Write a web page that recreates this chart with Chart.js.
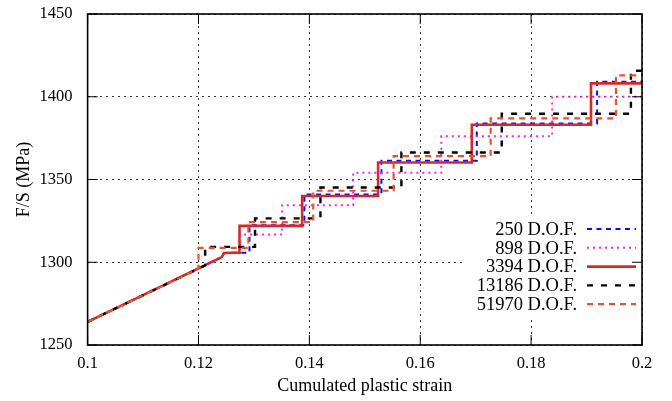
<!DOCTYPE html>
<html>
<head>
<meta charset="utf-8">
<script src="https://cdn.jsdelivr.net/npm/chart.js@4"></script>
<style>
  body { margin: 0; background: #fff; }
  #wrap { width: 672px; height: 401px; }
</style>
</head>
<body>
<div id="wrap"><canvas id="myChart" width="672" height="401"></canvas></div>
<script>
/**
 * 目盛り
 */
const xTicks = [0.1, 0.12, 0.14, 0.16, 0.18, 0.2];
const yTicks = [1250, 1300, 1350, 1400, 1450];

const names = ['250 D.O.F.', '898 D.O.F.', '3394 D.O.F.', '13186 D.O.F.', '51970 D.O.F.'];

// 250 D.O.F.
const x250 = [0.1, 0.1242, 0.1246, 0.1292, 0.1292, 0.1391, 0.1391, 0.1530, 0.1530, 0.1702, 0.1702, 0.1919, 0.1919, 0.2];
const y250 = [1264, 1303.1, 1305.6, 1305.8, 1322.4, 1322.4, 1341.0, 1341.0, 1361.3, 1361.3, 1383.9, 1383.9, 1409.1, 1409.1];

// 898 D.O.F.
const x898 = [0.1, 0.1242, 0.1246, 0.1275, 0.1275, 0.1351, 0.1351, 0.1479, 0.1479, 0.1638, 0.1638, 0.1838, 0.1838, 0.2];
const y898 = [1264, 1303.1, 1305.6, 1305.8, 1316.8, 1316.8, 1334.5, 1334.5, 1354.1, 1354.1, 1376.2, 1376.2, 1400.0, 1400.0];

// 3394 D.O.F.
const x3394 = [0.1, 0.1242, 0.1246, 0.1274, 0.1274, 0.1387, 0.1387, 0.1524, 0.1524, 0.1693, 0.1693, 0.1908, 0.1908, 0.2];
const y3394 = [1264, 1303.1, 1305.6, 1305.8, 1322.0, 1322.0, 1340.0, 1340.0, 1360.3, 1360.3, 1383.1, 1383.1, 1408.1, 1408.1];

// 13186 D.O.F.
const x13186 = [0.1, 0.1212, 0.1212, 0.1302, 0.1302, 0.1420, 0.1420, 0.1566, 0.1566, 0.1747, 0.1747, 0.1980, 0.1980, 0.2];
const y13186 = [1264, 1298.0, 1309.3, 1309.3, 1326.5, 1326.5, 1345.2, 1345.2, 1366.3, 1366.3, 1389.7, 1389.7, 1415.7, 1415.7];

// 51970 D.O.F.
const x51970 = [0.1, 0.12, 0.12, 0.1290, 0.1290, 0.1407, 0.1407, 0.1552, 0.1552, 0.1727, 0.1727, 0.1953, 0.1953, 0.2];
const y51970 = [1264, 1296.1, 1308.7, 1308.7, 1324.3, 1324.3, 1343.2, 1343.2, 1364.1, 1364.1, 1386.9, 1386.9, 1412.9, 1412.9];

const xs = [x250, x898, x3394, x13186, x51970];
const ys = [y250, y898, y3394, y13186, y51970];
const colors = ['#0a0aff', '#ee22ee', '#d62828', '#000000', '#e4542c'];
const widths = [2, 2, 2.6, 2.4, 2.2];
const dashes = [[5, 4.5], [2, 4], [], [6, 8], [6, 5]];

const serif = '"Liberation Serif", "DejaVu Serif", serif';
Chart.defaults.font.family = serif;
Chart.defaults.font.size = 16;
Chart.defaults.color = '#000';

const datasets = names.map((name, i) => ({
  label: name,
  data: xs[i].map((x, k) => ({ x: x, y: ys[i][k] })),
  showLine: true,
  borderColor: colors[i],
  borderWidth: widths[i],
  borderDash: dashes[i],
  pointRadius: 0,
  fill: false,
  order: names.length - i, // 後のデータを上に描く
}));

/**
 * 枠・内向きの目盛り・凡例
 */
const framePlugin = {
  id: 'frame',
  beforeDatasetsDraw(chart) {
    const { ctx, chartArea: a } = chart;
    ctx.save();
    ctx.fillStyle = '#fff';
    ctx.fillRect(a.right - 180, a.top + 204, 180, 98);
    ctx.restore();
  },
  afterDraw(chart) {
    const { ctx, chartArea: a, scales } = chart;
    const line = (x1, y1, x2, y2) => {
      ctx.beginPath();
      ctx.moveTo(x1, y1);
      ctx.lineTo(x2, y2);
      ctx.stroke();
    };
    ctx.save();
    ctx.strokeStyle = '#000';
    ctx.lineWidth = 1;
    xTicks.forEach(v => {
      const px = scales.x.getPixelForValue(v);
      line(px, a.bottom, px, a.bottom - 10);
      line(px, a.top, px, a.top + 10);
    });
    yTicks.forEach(v => {
      const py = scales.y.getPixelForValue(v);
      line(a.left, py, a.left + 10, py);
      line(a.right, py, a.right - 10, py);
    });
    ctx.lineWidth = 1.6;
    ctx.strokeRect(a.left, a.top, a.right - a.left, a.bottom - a.top);

    // 凡例
    ctx.font = '18.5px ' + serif;
    ctx.textAlign = 'right';
    ctx.textBaseline = 'middle';
    ctx.fillStyle = '#000';
    names.forEach((name, i) => {
      const y = a.top + 215 + i * 18.8;
      ctx.fillText(name, a.right - 65, y + 1);
      ctx.strokeStyle = colors[i];
      ctx.lineWidth = widths[i];
      ctx.setLineDash(dashes[i]);
      line(a.right - 55, y, a.right - 6, y);
    });
    ctx.restore();
  },
};

const config = {
  type: 'scatter',
  data: { datasets: datasets },
  options: {
    responsive: false,
    animation: false,
    layout: { padding: { left: 0, right: 30, top: 14, bottom: 0 } },
    plugins: { legend: { display: false }, tooltip: { enabled: false } },
    scales: {
      x: {
        type: 'linear',
        min: 0.1,
        max: 0.2,
        afterBuildTicks: s => { s.ticks = xTicks.map(v => ({ value: v })); },
        afterFit: s => { s.height = 56; s.paddingLeft = 0; s.paddingRight = 0; },
        ticks: { padding: 9, font: { size: 16.5 }, callback: v => String(+v.toFixed(2)) },
        grid: { color: '#333', lineWidth: 1, drawTicks: false },
        border: { display: false, dash: [2, 4] },
        title: { display: true, text: 'Cumulated plastic strain', font: { size: 18 }, padding: { top: 0, bottom: 4 } },
      },
      y: {
        type: 'linear',
        min: 1250,
        max: 1450,
        afterBuildTicks: s => { s.ticks = yTicks.map(v => ({ value: v })); },
        afterFit: s => { s.width = 87.6; s.paddingTop = 0; s.paddingBottom = 0; },
        ticks: { padding: 15, font: { size: 16.5 }, callback: v => String(v) },
        grid: { color: '#333', lineWidth: 1, drawTicks: false },
        border: { display: false, dash: [2, 4] },
        title: { display: true, text: 'F/S (MPa)', font: { size: 18 }, padding: { top: 13, bottom: 0 } },
      },
    },
  },
  plugins: [framePlugin],
};

const myChart = new Chart(document.getElementById('myChart'), config);
</script>
</body>
</html>
